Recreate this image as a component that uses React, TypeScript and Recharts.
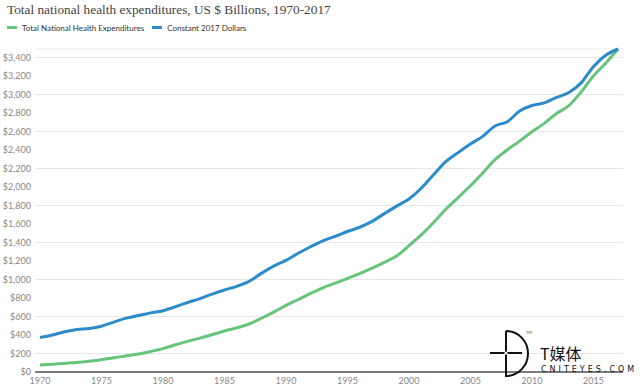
import { CartesianGrid, Line, LineChart, XAxis, YAxis } from "recharts";

const YEARS = [
  1970, 1971, 1972, 1973, 1974, 1975, 1976, 1977, 1978, 1979, 1980, 1981,
  1982, 1983, 1984, 1985, 1986, 1987, 1988, 1989, 1990, 1991, 1992, 1993,
  1994, 1995, 1996, 1997, 1998, 1999, 2000, 2001, 2002, 2003, 2004, 2005,
  2006, 2007, 2008, 2009, 2010, 2011, 2012, 2013, 2014, 2015, 2016, 2017,
];

// Total national health expenditures, nominal $ billions
const TOTAL_NHE = [
  75, 83, 93, 103, 117, 133, 153, 174, 195, 222, 253, 294, 331, 366, 404, 443,
  477, 519, 581, 648, 720, 784, 849, 910, 960, 1012, 1063, 1122, 1186, 1255,
  1366, 1482, 1616, 1760, 1886, 2013, 2152, 2296, 2402, 2496, 2597, 2688, 2795,
  2880, 3027, 3201, 3338, 3492,
];

// Same series in constant 2017 dollars
const CONSTANT_2017 = [
  372, 400, 435, 460, 470, 495, 540, 582, 610, 639, 663, 705, 751, 793, 842,
  887, 926, 979, 1066, 1144, 1207, 1284, 1354, 1418, 1466, 1519, 1565, 1628,
  1712, 1793, 1870, 1986, 2133, 2274, 2372, 2465, 2547, 2660, 2705, 2821, 2881,
  2909, 2968, 3021, 3126, 3301, 3424, 3492,
];

const X_TICKS = [1970, 1975, 1980, 1985, 1990, 1995, 2000, 2005, 2010, 2015];
const Y_TICKS = [
  0, 200, 400, 600, 800, 1000, 1200, 1400, 1600, 1800, 2000, 2200, 2400, 2600,
  2800, 3000, 3200, 3400,
];

const GREEN = "#67c47b";
const BLUE = "#2b8bcb";

const chartData = YEARS.map((year, i) => ({
  year,
  total: TOTAL_NHE[i],
  constant: CONSTANT_2017[i],
}));

const sans = "Lato, 'Open Sans', sans-serif";

function LegendItem({ color, label }: { color: string; label: string }) {
  return (
    <span style={{ display: "inline-flex", alignItems: "center", marginRight: 8 }}>
      <span
        style={{ width: 10, height: 3, background: color, marginRight: 5, display: "inline-block" }}
      />
      {label}
    </span>
  );
}

function Watermark() {
  return (
    <svg
      width={150}
      height={60}
      style={{ position: "absolute", left: 488, top: 326, overflow: "visible" }}
    >
      <path d="M18 5 L18 50 A 22 22.5 0 0 0 18 5" fill="none" stroke="#111" strokeWidth={2} />
      <line x1={2} y1={27} x2={34} y2={27} stroke="#111" strokeWidth={2} />
      <circle cx={18} cy={27} r={1.6} fill="#fff" />
      <text x={38} y={8} fontSize={4} fill="#444" fontFamily={sans}>
        TM
      </text>
      <text x={52} y={34} fontSize={16} fill="#111" fontFamily="'Noto Sans CJK SC', sans-serif">
        T媒体
      </text>
      <text
        x={53}
        y={46}
        fontSize={8}
        fill="#111"
        letterSpacing={3}
        fontFamily="'DejaVu Sans', sans-serif"
      >
        CNITEYES.COM
      </text>
    </svg>
  );
}

export default function App() {
  return (
    <div
      style={{
        position: "absolute",
        left: 0,
        top: 0,
        width: 640,
        height: 388,
        background: "#fff",
        overflow: "hidden",
      }}
    >
      <div
        style={{
          position: "absolute",
          left: 7,
          top: 2,
          fontFamily: "'Liberation Serif', serif",
          fontSize: 13.3,
          color: "#444",
          whiteSpace: "nowrap",
        }}
      >
        Total national health expenditures, US $ Billions, 1970-2017
      </div>
      <div
        style={{
          position: "absolute",
          left: 7,
          top: 21,
          fontFamily: sans,
          fontSize: 8,
          color: "#333",
          whiteSpace: "nowrap",
        }}
      >
        <LegendItem color={GREEN} label="Total National Health Expenditures" />
        <LegendItem color={BLUE} label="Constant 2017 Dollars" />
      </div>
      <LineChart
        width={640}
        height={388}
        data={chartData}
        margin={{ top: 49, right: 17, left: 0, bottom: 0 }}
      >
        <CartesianGrid vertical={false} stroke="#e8e8e8" />
        <XAxis
          dataKey="year"
          type="number"
          domain={[1970, 2017]}
          ticks={X_TICKS}
          padding={{ left: 5, right: 5 }}
          height={16}
          tickLine={false}
          tickSize={0}
          tickMargin={6}
          axisLine={{ stroke: "#555", strokeWidth: 1.5 }}
          tick={{ fontSize: 9, fill: "#888", fontFamily: sans }}
        />
        <YAxis
          domain={[0, 3400]}
          ticks={Y_TICKS}
          width={35}
          axisLine={false}
          tickLine={false}
          tickSize={0}
          tickMargin={4}
          tick={{ fontSize: 9, fill: "#888", fontFamily: sans }}
          tickFormatter={(v) => `$${Number(v).toLocaleString("en-US")}`}
        />
        <Line
          type="monotone"
          dataKey="total"
          stroke={GREEN}
          strokeWidth={3}
          dot={false}
          isAnimationActive={false}
        />
        <Line
          type="monotone"
          dataKey="constant"
          stroke={BLUE}
          strokeWidth={3}
          dot={false}
          isAnimationActive={false}
        />
      </LineChart>
      <Watermark />
    </div>
  );
}
